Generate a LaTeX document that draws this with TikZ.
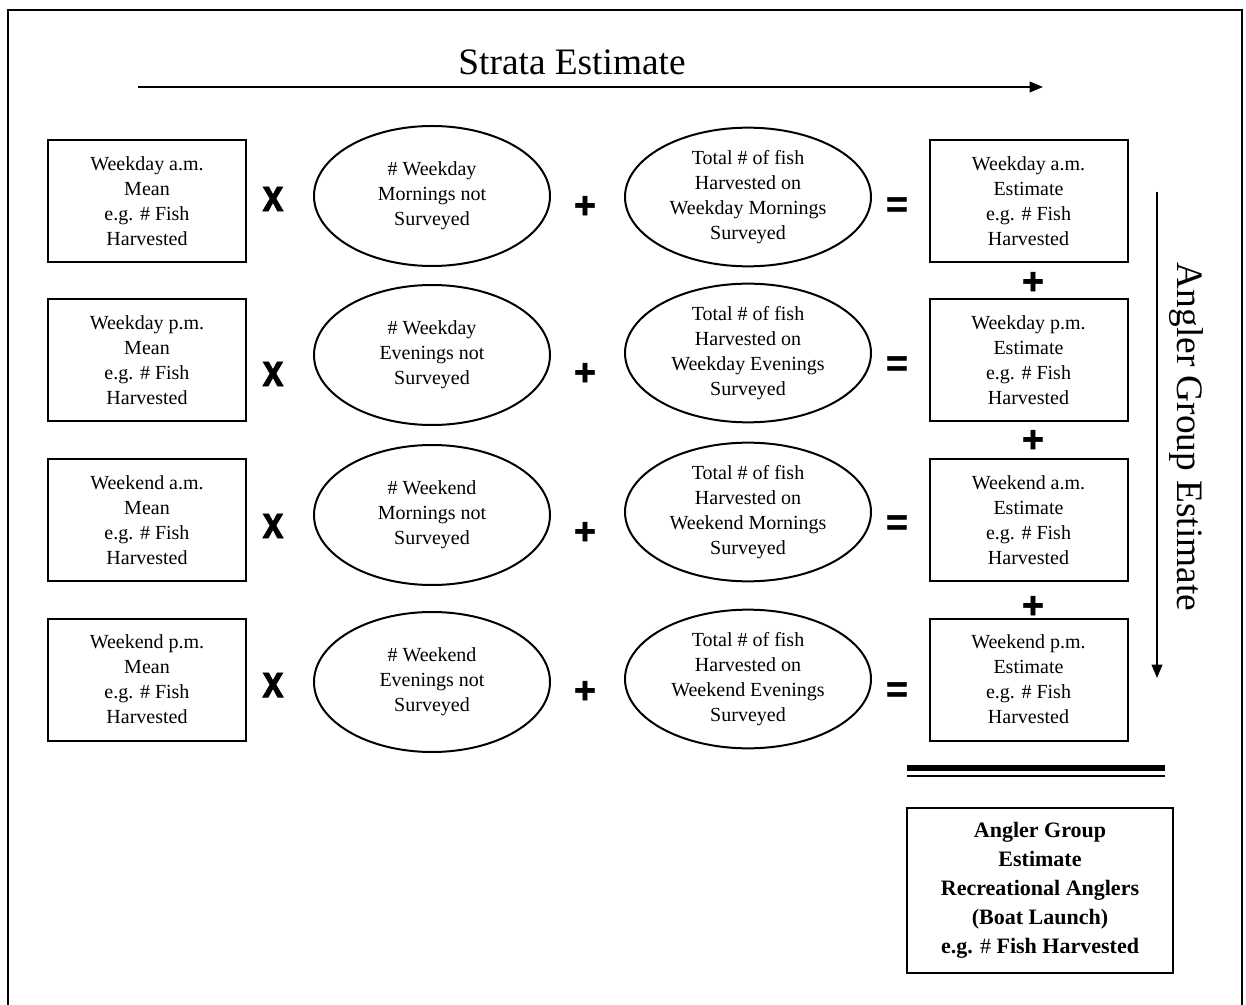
\documentclass[tikz,border=0pt]{standalone}
\usepackage{fontspec}
\usepackage{graphicx}
\setmainfont{Liberation Serif}
\newfontfamily\opfont[BoldFeatures={FakeBold=1.5}]{Liberation Sans}
\usetikzlibrary{shapes.geometric,arrows.meta}
\newcommand{\timesx}{\scalebox{0.95}[1.15]{x}}
\begin{document}
\begin{tikzpicture}[x=0.75pt,y=-0.75pt,
 txt/.style={font=\fontsize{15}{18.75}\selectfont, align=center},
 srcbox/.style={draw, line width=1.5pt, minimum width=148.5pt, minimum height=91.5pt, inner sep=0pt, txt},
 ellA/.style={draw, ellipse, line width=1.5pt, minimum width=177pt, minimum height=105pt, inner sep=0pt, txt},
 ellB/.style={draw, ellipse, line width=1.5pt, minimum width=184.5pt, minimum height=104pt, inner sep=0pt, txt},
 op/.style={font=\opfont\bfseries\fontsize{28}{30}\selectfont, inner sep=0pt},
 opx/.style={font=\opfont\bfseries\fontsize{30}{32}\selectfont, inner sep=0pt},
 axis/.style={line width=1.1pt, -{Triangle[length=10pt,width=8pt]}},
 big/.style={font=\fontsize{28}{33}\selectfont, inner sep=0pt},
 totbox/.style={draw, line width=1.5pt, minimum width=199.5pt, minimum height=123.75pt, inner sep=0pt, align=center, font=\fontsize{16.5}{21.75}\selectfont\bfseries},
]
\useasboundingbox (0,0) rectangle (1246,1005);
% outer frame
\draw[line width=1.5pt] (8,10) rectangle (1242,1020);

% title and horizontal arrow
\node[big, anchor=base] (strata) at (572,75) {Strata Estimate};
\coordinate (hs) at (138,87);
\coordinate (he) at (1043,87);
\draw[axis] (hs) -- (he);

% vertical arrow and label
\coordinate (vs) at (1157,192);
\coordinate (ve) at (1157,678);
\draw[axis] (vs) -- (ve);
\node[big, anchor=base, rotate=-90] (angler) at (1177,437) {Angler Group Estimate};

% row 1
\node[srcbox] (m1) at (147,201) {Weekday a.m.\\Mean\\e.g. \# Fish\\Harvested};
\node[opx] (x1) at (273,199) {\timesx};
\node[ellA] (n1) at (432,196) {\# Weekday\\Mornings not\\Surveyed};
\node[op] (p1) at (585,207) {+};
\node[ellB] (t1) at (748,197) {Total \# of fish\\Harvested on\\Weekday Mornings\\Surveyed};
\node[op] (q1) at (897,207) {=};
\node[srcbox] (r1) at (1028.5,201) {Weekday a.m.\\Estimate\\e.g. \# Fish\\Harvested};

% row 2
\node[srcbox] (m2) at (147,360) {Weekday p.m.\\Mean\\e.g. \# Fish\\Harvested};
\node[opx] (x2) at (273,374) {\timesx};
\node[ellA] (n2) at (432,355) {\# Weekday\\Evenings not\\Surveyed};
\node[op] (p2) at (585,374) {+};
\node[ellB] (t2) at (748,353) {Total \# of fish\\Harvested on\\Weekday Evenings\\Surveyed};
\node[op] (q2) at (897,366) {=};
\node[srcbox] (r2) at (1028.5,360) {Weekday p.m.\\Estimate\\e.g. \# Fish\\Harvested};

% row 3
\node[srcbox] (m3) at (147,520) {Weekend a.m.\\Mean\\e.g. \# Fish\\Harvested};
\node[opx] (x3) at (273,526) {\timesx};
\node[ellA] (n3) at (432,515) {\# Weekend\\Mornings not\\Surveyed};
\node[op] (p3) at (585,533) {+};
\node[ellB] (t3) at (748,512) {Total \# of fish\\Harvested on\\Weekend Mornings\\Surveyed};
\node[op] (q3) at (897,525) {=};
\node[srcbox] (r3) at (1028.5,520) {Weekend a.m.\\Estimate\\e.g. \# Fish\\Harvested};

% row 4
\node[srcbox] (m4) at (147,679.5) {Weekend p.m.\\Mean\\e.g. \# Fish\\Harvested};
\node[opx] (x4) at (273,685) {\timesx};
\node[ellA] (n4) at (432,682) {\# Weekend\\Evenings not\\Surveyed};
\node[op] (p4) at (585,692) {+};
\node[ellB] (t4) at (748,679) {Total \# of fish\\Harvested on\\Weekend Evenings\\Surveyed};
\node[op] (q4) at (897,692) {=};
\node[srcbox] (r4) at (1028.5,679.5) {Weekend p.m.\\Estimate\\e.g. \# Fish\\Harvested};

% plus signs between estimate boxes
\node[op] (s1) at (1033,283) {+};
\node[op] (s2) at (1033,441) {+};
\node[op] (s3) at (1033,607) {+};

% double rule
\coordinate (da) at (907,768);
\coordinate (db) at (1165,768);
\coordinate (dc) at (907,775.5);
\coordinate (dd) at (1165,775.5);
\draw[line width=4.5pt] (da) -- (db);
\draw[line width=1.5pt] (dc) -- (dd);

% total box
\node[totbox] (total) at (1040,890.5) {Angler Group\\Estimate\\Recreational Anglers\\(Boat Launch)\\e.g. {\mdseries\#} Fish Harvested};
\end{tikzpicture}
\end{document}
